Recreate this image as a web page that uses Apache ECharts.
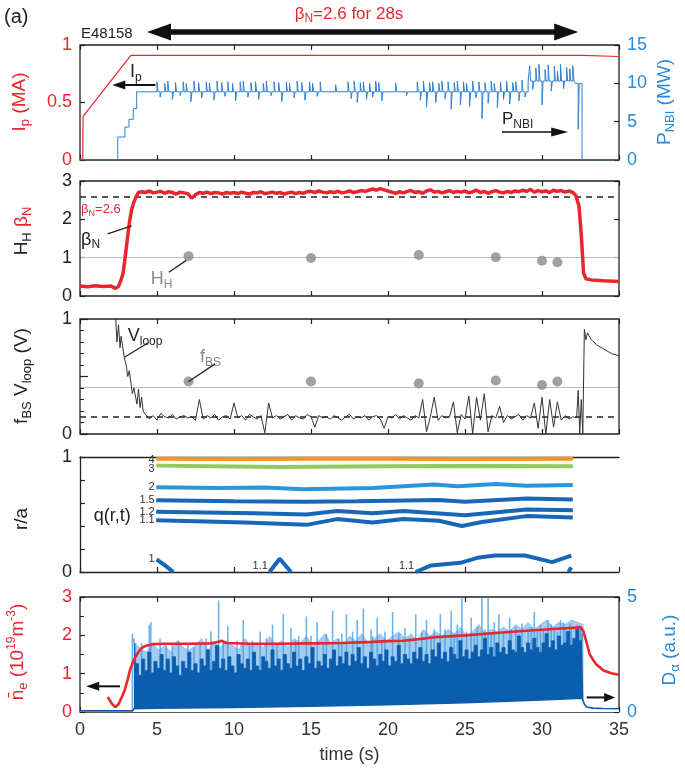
<!DOCTYPE html>
<html><head><meta charset="utf-8">
<script src="https://cdn.jsdelivr.net/npm/echarts@6/dist/echarts.min.js"></script>
<style>html,body{margin:0;padding:0;background:#fff}#c{width:685px;height:777px}</style>
</head><body><div id="c"></div>
<script>
// ---------------- DATA ----------------
const ipData = [[0,0],[0.18,0],[0.2,0.38],[3.3,0.91],[32.65,0.91],[32.75,0.9],[35,0.9]];
// PNBI base level: [start time, level]
const pnbiBase = [[0,0],[2.45,3.0],[2.92,4.3],[3.18,5.3],[3.46,6.7],[3.68,8.9],[29.1,10.3],[32.15,10.0],[32.6,0],[35,0]];
// PNBI short excursions: [time, level]
const pnbiSpikes = [[5.0,10.2],[5.2,8.2],[5.5,10.0],[5.7,10.3],[6.0,7.9],[6.2,10.1],[6.5,8.4],[6.7,10.2],[6.9,10.0],[7.2,7.6],[7.4,10.3],[7.7,10.1],[7.9,8.1],[8.2,10.2],[8.4,10.0],[8.7,7.8],[8.9,10.3],[9.2,10.1],[9.4,8.3],[9.6,10.2],[9.9,10.0],[10.1,7.7],[10.4,10.2],[10.6,10.3],[10.9,8.2],[11.1,10.1],[11.4,10.2],[11.6,7.9],[11.9,10.0],[12.1,10.3],[12.4,8.4],[12.6,10.2],[12.9,10.1],[13.1,7.6],[13.4,10.2],[13.6,10.0],[13.9,8.1],[14.1,10.3],[14.4,10.1],[14.6,7.8],[14.9,10.2],[15.1,10.0],[15.4,8.3],[15.6,10.2],
[16.6,9.8],[17.4,10.2],[17.6,8.0],[17.8,10.3],[18.0,7.5],[18.2,10.1],[18.4,10.2],[18.6,7.9],[18.8,10.0],[19.0,8.2],[19.2,10.3],[19.4,10.1],[19.6,7.7],[20.5,10.0],[21.2,8.4],
[21.9,10.2],[22.1,7.8],[22.3,10.3],[22.5,6.9],[22.7,10.1],[22.9,10.2],[23.1,7.5],[23.3,10.0],[23.5,10.3],[23.7,8.0],[23.9,10.2],[24.1,6.6],[24.3,10.1],[24.5,10.3],[24.7,7.2],[24.9,10.2],[25.1,10.0],[25.3,7.0],[25.5,10.3],[25.7,8.1],[25.9,10.2],[26.1,5.4],[26.3,10.1],[26.5,7.4],[26.7,10.3],[26.9,10.0],[27.1,6.8],[27.3,10.2],[27.5,7.9],[27.7,10.3],[27.9,7.3],[28.1,10.1],[28.3,10.2],[28.5,7.7],[28.7,10.4],[28.9,8.2],
[29.2,12.3],[29.4,9.2],[29.6,12.0],[29.8,12.5],[30.0,7.2],[30.2,11.8],[30.4,12.4],[30.6,9.0],[30.8,12.2],[31.0,11.6],[31.2,12.5],[31.4,9.3],[31.6,12.1],[31.8,11.9],[32.0,12.3],[32.35,4.0]];

// beta_N
const bnStart = [[0,0.26],[0.5,0.24],[1.0,0.27],[1.5,0.25],[2.0,0.26],[2.3,0.2],[2.5,0.25],[2.65,0.4],[2.8,0.6],[2.9,0.9],[3.05,1.4],[3.2,1.9],[3.35,2.25],[3.5,2.45],[3.65,2.6],[3.8,2.7]];
const bnT0 = 4.0, bnDt = 0.25;
const bnVals = [2.72,2.70,2.74,2.69,2.71,2.73,2.68,2.72,2.70,2.66,2.71,2.69,
2.67,2.55,2.64,2.70,2.68,2.71,2.67,2.70,2.69,2.66,2.70,2.68,
2.70,2.67,2.71,2.68,2.66,2.70,2.69,2.72,2.67,2.69,2.71,2.68,
2.70,2.66,2.69,2.71,2.67,2.70,2.68,2.72,2.73,2.70,2.74,2.71,
2.69,2.72,2.70,2.73,2.69,2.71,2.74,2.70,2.72,2.75,2.73,2.76,
2.79,2.76,2.80,2.77,2.74,2.71,2.68,2.72,2.69,2.73,2.75,2.70,
2.72,2.68,2.74,2.77,2.71,2.73,2.69,2.72,2.75,2.70,2.73,2.71,
2.74,2.69,2.72,2.76,2.70,2.73,2.68,2.72,2.75,2.71,2.69,2.73,
2.70,2.74,2.72,2.76,2.73,2.78,2.71,2.75,2.72,2.74,2.70,2.76,
2.73,2.75,2.71,2.74,2.70];
const bnEnd = [[32.2,2.62],[32.4,2.35],[32.55,1.6],[32.7,0.6],[32.85,0.45],[33.2,0.42],[34,0.4],[35,0.38]];
const shotT = [7.05,15.0,22.0,27.0,30.0,31.0];
const hhVals = [1.04,0.99,1.07,1.01,0.92,0.88];
const fbsVals = [0.456,0.456,0.44,0.465,0.426,0.456];

// V_loop
const vlStart = [[2.3,1.05],[2.4,0.8],[2.5,0.95],[2.6,0.75],[2.67,0.85],[2.87,0.67],[3.0,0.6],[3.1,0.5],[3.2,0.55],[3.4,0.35],[3.5,0.4],[3.7,0.26],[3.8,0.39],[3.9,0.23],[4.0,0.32],[4.1,0.2]];
const vlT0 = 4.25, vlDt = 0.25;
const vlVals = [0.17,0.13,0.16,0.12,0.18,0.15,0.14,0.17,0.13,0.15,0.16,0.14,
0.15,0.12,0.30,0.13,0.16,0.14,0.17,0.12,0.15,0.16,0.13,0.27,
0.14,0.16,0.12,0.17,0.15,0.13,0.16,0.01,0.27,0.14,0.16,0.13,
0.15,0.17,0.12,0.16,0.14,0.13,0.17,0.15,0.06,0.16,0.14,0.15,
0.13,0.16,0.14,0.12,0.15,0.17,0.13,0.15,0.14,0.16,0.12,0.15,
0.16,0.13,0.05,0.15,0.14,0.17,0.13,0.16,0.14,0.12,0.16,0.14,
0.30,0.02,0.15,0.32,0.12,0.16,0.14,0.15,0.28,0.01,0.17,0.13,
0.33,0.00,0.32,0.12,0.35,0.02,0.16,0.14,0.24,0.10,0.16,0.13,
0.15,0.17,0.12,0.16,0.14,0.27,0.05,0.32,0.00,0.30,0.06,0.28,
0.12,0.16,0.13,0.15,0.14];
const vlEnd = [[32.35,0.38],[32.45,0.0],[32.55,0.3],[32.65,0.0],[32.72,0.0],[32.75,0.91],[32.85,0.82],[32.95,0.88],[33.2,0.82],[33.6,0.77],[34.0,0.74],[34.5,0.7],[35,0.68]];

// q surfaces r/a
const q4 = [[4.95,0.985],[10,0.983],[15,0.985],[20,0.984],[25,0.983],[32,0.985]];
const q3 = [[4.95,0.925],[10,0.918],[13,0.914],[20,0.92],[25,0.922],[32,0.92]];
const q2 = [[4.95,0.737],[9,0.73],[12,0.735],[14.5,0.72],[19,0.73],[23,0.76],[24.5,0.745],[27,0.765],[29,0.75],[32,0.757]];
const q15 = [[4.95,0.623],[10,0.615],[14.5,0.61],[18,0.615],[23.3,0.627],[25,0.61],[29,0.64],[32,0.631]];
const q12 = [[4.95,0.523],[11.3,0.51],[14.7,0.5],[16.7,0.53],[19,0.51],[21,0.53],[25,0.494],[29,0.543],[32,0.537]];
const q11 = [[4.95,0.451],[10.7,0.43],[14.7,0.41],[16.7,0.46],[19,0.43],[21,0.46],[23.3,0.445],[24.8,0.40],[26.1,0.435],[29,0.486],[32,0.474]];
const q1a = [[4.97,0.11],[5.5,0.06],[6.06,0]];
const q1b = [[12.3,0],[12.97,0.115],[13.7,0]];
const q1c = [[21.8,0],[22.8,0.057],[24.7,0.08],[25.8,0.123],[26.95,0.143],[28.9,0.143],[30.65,0.086],[31.9,0.143]];
const q1d = [[31.72,0],[31.9,0.04]];

// line-averaged density
const neData = [[1.8,0.39],[2.1,0.2],[2.3,0.13],[2.5,0.2],[2.7,0.38],[2.9,0.57],[3.1,0.85],[3.25,1.1],[3.45,1.32],[3.6,1.43],[3.8,1.57],[4.0,1.67],[4.3,1.73],[4.7,1.77],[5.5,1.78],[7,1.78],[8.5,1.79],[9.0,1.83],[9.2,1.86],[9.5,1.8],[11,1.78],[13,1.78],[15,1.79],[17,1.8],[19,1.83],[20,1.85],[21,1.86],[22,1.9],[23,1.95],[25,2.0],[27,2.06],[29,2.12],[31,2.17],[32.3,2.2],[32.5,2.22],[32.7,2.1],[32.9,1.8],[33.1,1.5],[33.5,1.25],[34.0,1.08],[34.5,1.01],[35,0.97]];

// D-alpha (a.u.)
const daT0 = 3.5, daDt = 0.2;
const daTop = [3.2,2.1,1.6,2.3,1.8,2.6,1.7,2.2,1.9,2.5,
1.8,2.3,1.7,2.4,2.0,1.6,2.2,1.9,2.6,1.8,
2.1,1.7,2.3,2.0,2.7,1.8,2.2,2.9,1.9,2.3,
1.8,2.4,2.0,1.7,2.5,2.1,1.9,2.3,1.8,2.6,
2.0,1.8,2.4,2.2,1.9,2.7,2.0,2.3,1.8,2.5,
2.1,1.9,2.6,2.0,2.3,1.8,2.4,2.1,2.8,1.9,
2.2,2.0,2.5,1.9,2.3,2.7,2.0,2.4,2.1,2.6,
2.0,2.5,2.2,2.8,2.1,2.4,1.9,2.6,2.3,2.0,
2.5,2.2,2.7,2.0,2.4,2.2,2.9,2.1,2.5,2.3,
2.1,2.6,2.3,2.8,2.2,2.5,2.1,2.7,2.4,3.0,
2.3,2.6,2.2,2.8,2.5,2.3,3.1,2.4,2.7,2.3,
2.6,2.9,2.4,2.7,3.2,2.5,2.8,2.4,3.0,2.6,
2.8,2.5,3.1,2.7,2.6,3.3,2.8,2.6,3.0,2.7,
3.2,2.8,2.6,3.0,3.4,2.8,3.1,2.7,3.3,2.9,
3.0,3.5,2.9,3.2,3.6,3.1,3.4];
// lighter fringe above the dense band (0.4 s sampling)
const daMidT0 = 3.5, daMidDt = 0.4;
const daMid = [3.0,2.8,2.6,3.0,2.7,2.9,2.6,3.1,2.8,2.7,
2.9,3.2,2.7,3.0,2.8,3.1,2.9,2.7,3.2,2.9,
3.0,2.8,3.3,2.9,3.1,2.8,3.2,3.0,3.3,2.9,
3.1,3.4,3.0,3.2,2.9,3.3,3.1,3.4,3.0,3.2,
3.4,3.1,3.3,3.5,3.2,3.4,3.1,3.6,3.3,3.5,
3.3,3.6,3.4,3.7,3.3,3.5,3.8,3.4,3.6,3.5,
3.7,3.5,3.8,3.6,3.9,3.6,3.8,4.0,3.7,3.9,
3.8,4.0,3.9,3.8];
const daBase = [[0,0.05],[3.42,0.05],[3.5,0.14],[5,0.17],[10,0.2],[15,0.25],[20,0.32],[25,0.4],[30,0.52],[32.6,0.6],[32.75,0.35],[32.9,0.22],[33.3,0.17],[34,0.15],[35,0.14]];
const daSpikes = [[3.4,3.4],[3.6,3.0],[4.0,3.0],[4.5,3.8],[4.6,3.9],[5.2,3.2],[5.6,2.9],[6.0,3.0],[6.4,3.1],[7.0,2.9],[7.4,2.8],[7.8,3.0],[8.2,3.2],[8.5,3.5],[9.0,4.85],[9.3,3.0],[9.6,3.75],[10.2,3.1],[10.6,4.0],[11.0,2.9],[11.2,3.1],[11.7,3.5],[12.1,3.2],[12.5,3.8],[12.8,3.0],[13.2,4.25],[13.7,3.65],[14.0,3.1],[14.2,3.3],[14.7,4.15],[15.0,3.3],[15.4,3.9],[15.8,3.0],[16.0,3.4],[16.4,4.4],[16.8,3.2],[17.0,3.4],[17.3,4.25],[17.7,3.5],[18.0,4.0],[18.4,4.5],[18.9,3.6],[19.0,3.3],[19.3,4.1],[19.6,3.0],[19.8,3.5],[20.3,4.35],[20.7,3.4],[21.1,3.65],[21.4,3.2],[21.8,4.25],[22.2,3.5],[22.5,4.0],[22.8,3.3],[23.0,3.6],[23.4,4.25],[23.7,3.6],[24.1,4.4],[24.3,3.4],[24.5,3.8],[24.8,4.95],[25.1,3.5],[25.4,4.1],[25.6,3.3],[25.8,3.7],[26.1,4.95],[26.3,3.6],[26.5,4.95],[26.7,3.4],[26.9,3.9],[27.2,4.25],[27.5,3.5],[27.9,4.1],[28.0,3.6],[28.3,3.7],[28.5,3.4],[28.7,3.85],[29.1,3.6],[29.3,3.7],[29.5,4.35],[29.7,3.5],[29.9,3.8],[30.1,3.6],[30.4,4.0],[30.6,3.8],[30.8,3.7],[31.0,3.5],[31.2,4.0],[31.4,3.9],[31.5,3.6],[31.8,3.85],[31.9,3.7],[32.2,3.7],[32.3,3.8],[32.5,3.65]];

// ---------------- BUILD ----------------
const FONT = '"Liberation Sans", Arial, sans-serif';
const RED = '#e8262e', BLUE = '#2b8ad6', PNBI_C = '#2f80d0', DA_DARK = '#0b5dad', DA_MID = '#4a9ae0', DA_LIGHT = '#6cb5ec', GRAY = '#8a8a8a', INK = '#222';
const TOPS = [45, 181, 319, 457, 597], H = 115, L = 80, R = 66;

function gridSeries(t0, dt, vals){ return vals.map((v,i)=>[+(t0+i*dt).toFixed(3), v]); }
function baseAt(t){ let b = pnbiBase[0][1]; for (const s of pnbiBase) if (s[0] <= t) b = s[1]; return b; }
const pnbiPts = pnbiBase.map(p=>[p[0],p[1]]);
pnbiSpikes.forEach(s=>{ pnbiPts.push([s[0], s[1]]); pnbiPts.push([+(s[0]+0.07).toFixed(3), baseAt(s[0]+0.07)]); });
pnbiPts.sort((a,b)=>a[0]-b[0]);

const bnData = bnStart.concat(gridSeries(bnT0, bnDt, bnVals), bnEnd);
const vlData = vlStart.concat(gridSeries(vlT0, vlDt, vlVals), vlEnd);
const daTopData = gridSeries(daT0, daDt, daTop);
const daMidData = gridSeries(daMidT0, daMidDt, daMid);
const hhData = shotT.map((t,i)=>[t, hhVals[i]]);
const fbsData = shotT.map((t,i)=>[t, fbsVals[i]]);

const grids = TOPS.map((t,i)=>({left:L, right:R, top:t, height:H, show: i!==3, borderColor:INK, borderWidth:1.3, backgroundColor:'transparent', z:3}));
const xAxes = [];
for (let g=0; g<5; g++){
  xAxes.push({type:'value', gridIndex:g, min:0, max:35, interval:5, position:'bottom',
    axisLine:{show:g===3, onZero:false, lineStyle:{color:INK, width:1.3}},
    axisTick:{show:true, inside:true, length:5, lineStyle:{color:INK, width:1.2}},
    axisLabel:{show:g===4, color:'#333', fontSize:18, fontFamily:FONT, margin:9},
    splitLine:{show:false},
    name: g===4 ? 'time (s)' : '', nameLocation:'middle', nameGap:34,
    nameTextStyle:{fontSize:18, color:'#333', fontFamily:FONT}});
  xAxes.push({type:'value', gridIndex:g, min:0, max:35, interval:5, position:'top',
    axisLine:{show:g===3, onZero:false, lineStyle:{color:INK, width:1.3}},
    axisTick:{show:g!==3, inside:true, length:5, lineStyle:{color:INK, width:1.2}},
    axisLabel:{show:false}, splitLine:{show:false}});
}
function yax(g, pos, min, max, interval, color, extra){
  return Object.assign({type:'value', gridIndex:g, position:pos, min:min, max:max, interval:interval,
    axisLine:{show:false, onZero:false},
    axisTick:{show:true, inside:true, length:5, lineStyle:{color:INK, width:1.2}},
    axisLabel:{show:true, color:color, fontSize:18, fontFamily:FONT, margin:8},
    splitLine:{show:false}}, extra||{});
}
const only01 = v => (Math.abs(v)<1e-9 ? '0' : (Math.abs(v-1)<1e-9 ? '1' : ''));
const yAxes = [
  yax(0,'left',0,1,0.5,RED),
  yax(0,'right',0,15,5,BLUE),
  yax(1,'left',0,3,1,INK),
  yax(1,'right',0,3,1,INK,{axisLabel:{show:false}}),
  yax(2,'left',0,1,0.5,INK,{axisLabel:{show:true,color:INK,fontSize:18,fontFamily:FONT,margin:8,formatter:only01},
     axisTick:{show:true,inside:true,length:8,lineStyle:{color:INK,width:1.2}},
     minorTick:{show:true,splitNumber:5,length:4,lineStyle:{color:INK,width:1}}}),
  yax(3,'left',0,1,0.2,INK,{axisLine:{show:true,onZero:false,lineStyle:{color:INK,width:1.3}},
     axisLabel:{show:true,color:INK,fontSize:18,fontFamily:FONT,margin:8,formatter:only01}}),
  yax(4,'left',0,3,1,RED,{minorTick:{show:true,splitNumber:2,length:4,lineStyle:{color:INK,width:1}}}),
  yax(4,'right',0,5,5,BLUE)
];

function line(name, xi, yi, data, color, width, extra){
  return Object.assign({name:name, type:'line', xAxisIndex:xi, yAxisIndex:yi, data:data, showSymbol:false, symbol:'none',
    lineStyle:{color:color, width:width}, itemStyle:{color:color}, animation:false, silent:true}, extra||{});
}
const ml = (items) => ({silent:true, symbol:'none', z:1, label:{show:false}, animation:false, data:items});

const series = [
  line('Ip',0,0,ipData,RED,1.2),
  line('PNBI',0,1,pnbiPts,PNBI_C,1,{step:'end'}),
  line('refs2',2,2,[[-1,-1]],'#fff',0,{markLine: ml([
      {yAxis:2.6, lineStyle:{type:[6,5], color:INK, width:1.5}},
      {yAxis:1, lineStyle:{type:'solid', color:'#bdbdbd', width:1.2}}])}),
  line('betaN',2,2,bnData,RED,3.5),
  {name:'HH', type:'scatter', xAxisIndex:2, yAxisIndex:2, data:hhData, symbolSize:10, itemStyle:{color:GRAY}, silent:true, animation:false},
  line('refs3',4,4,[[-1,-1]],'#fff',0,{markLine: ml([
      {yAxis:0.15, lineStyle:{type:[6,5], color:INK, width:1.5}},
      {yAxis:0.41, lineStyle:{type:'solid', color:'#bdbdbd', width:1.2}}])}),
  line('Vloop',4,4,vlData,'#333',1),
  {name:'fBS', type:'scatter', xAxisIndex:4, yAxisIndex:4, data:fbsData, symbolSize:10, itemStyle:{color:GRAY}, silent:true, animation:false},
  line('q4',6,5,q4,'#f7941d',4),
  line('q3',6,5,q3,'#8fcc5c',4),
  line('q2',6,5,q2,'#2b95dc',4),
  line('q15',6,5,q15,'#1766b8',4),
  line('q12',6,5,q12,'#1766b8',4),
  line('q11',6,5,q11,'#1766b8',4),
  line('q1a',6,5,q1a,'#1766b8',4),
  line('q1b',6,5,q1b,'#1766b8',4),
  line('q1c',6,5,q1c,'#1766b8',4),
  line('q1d',6,5,q1d,'#1766b8',4),
  {name:'DaSpk', type:'bar', xAxisIndex:8, yAxisIndex:7, data:daSpikes, barWidth:1.6, itemStyle:{color:DA_LIGHT}, silent:true, animation:false},
  line('DaMid',8,7,daMidData,DA_MID,0.6,{areaStyle:{color:DA_MID, opacity:0.5}, lineStyle:{color:DA_MID, width:0.6, opacity:0.6}}),
  line('DaTop',8,7,daTopData,DA_DARK,0.8,{step:'middle', areaStyle:{color:DA_DARK, opacity:1}}),
  line('DaBase',8,7,daBase,DA_DARK,1.6,{areaStyle:{color:'#fff', opacity:1}}),
  line('ne',8,6,neData,RED,2.6)
];

const chart = echarts.init(document.getElementById('c'), null, {renderer:'canvas'});
chart.setOption({animation:false, backgroundColor:'#fff', textStyle:{fontFamily:FONT},
  grid:grids, xAxis:xAxes, yAxis:yAxes, series:series});

// ---------------- ANNOTATIONS ----------------
function P(g, yi, t, v){ return chart.convertToPixel({xAxisIndex:2*g, yAxisIndex:yi}, [t, v]); }
function R_(size, color){
  return {
    m:{fontSize:size, lineHeight:size+5, fill:color, fontFamily:FONT},
    s:{fontSize:Math.round(size*0.68), lineHeight:Math.round(size*0.68), verticalAlign:'bottom', fill:color, fontFamily:FONT},
    u:{fontSize:Math.round(size*0.65), lineHeight:Math.round(size*0.65), verticalAlign:'top', fill:color, fontFamily:FONT},
    r:{fontSize:size, lineHeight:size+5, fill:RED, fontFamily:FONT},
    rs:{fontSize:Math.round(size*0.68), lineHeight:Math.round(size*0.68), verticalAlign:'bottom', fill:RED, fontFamily:FONT}
  };
}
function txt(x, y, text, size, color, align, rot){
  return {type:'text', x:x, y:y, rotation:rot||0, z:50, silent:true,
    style:{text:text, rich:R_(size,color), fill:color, fontSize:size, fontFamily:FONT, align:align||'left', verticalAlign:'middle'}};
}
function arrow(p1, p2, w, hl, hw, color, both){
  const dx=p2[0]-p1[0], dy=p2[1]-p1[1], len=Math.hypot(dx,dy), ux=dx/len, uy=dy/len;
  const els=[];
  const head=(tip, sx, sy)=>{ const bx=tip[0]-sx*hl, by=tip[1]-sy*hl;
    els.push({type:'polygon', z:50, silent:true, shape:{points:[[tip[0],tip[1]],[bx-sy*hw/2, by+sx*hw/2],[bx+sy*hw/2, by-sx*hw/2]]}, style:{fill:color}}); };
  const a = both ? [p1[0]+ux*hl*0.8, p1[1]+uy*hl*0.8] : p1;
  const b = [p2[0]-ux*hl*0.8, p2[1]-uy*hl*0.8];
  els.push({type:'line', z:50, silent:true, shape:{x1:a[0],y1:a[1],x2:b[0],y2:b[1]}, style:{stroke:color, lineWidth:w}});
  head(p2, ux, uy); if (both) head(p1, -ux, -uy);
  return els;
}
function seg(p1, p2, color, w){ return {type:'line', z:50, silent:true, shape:{x1:p1[0],y1:p1[1],x2:p2[0],y2:p2[1]}, style:{stroke:color, lineWidth:w||1.3}}; }

const g = [];
const VR = Math.PI/2; // text reads bottom-to-top
g.push(txt(4, 17, '(a)', 20, INK));
g.push(txt(349, 14, '{r|β}{rs|N}{r|=2.6 for 28s}', 17, RED, 'center'));
g.push(txt(81, 34, 'E48158', 15, INK));
const xa = P(0,0,4.35,0)[0], xb = P(0,0,32.35,0)[0];
g.push(...arrow([xa,32],[xb,32],5.5,24,17,'#111',true));
// axis titles
g.push(txt(20, 102, '{m|I}{s|p}{m| (MA)}', 19, RED, 'center', VR));
g.push(txt(665, 102, '{m|P}{s|NBI}{m| (MW)}', 19, BLUE, 'center', VR));
g.push(txt(22, 231, '{m|H}{s|H}{m| }{r|β}{rs|N}', 19, INK, 'center', VR));
g.push(txt(22, 376, '{m|f}{s|BS}{m| V}{s|loop}{m| (V)}', 19, INK, 'center', VR));
g.push(txt(22, 519, '{m|r/a}', 19, INK, 'center', VR));
g.push(txt(18, 652, '{m|n\u0304}{s|e}{m| (10}{u|19}{m|m}{u|-3}{m|)}', 19, RED, 'center', VR));
g.push(txt(670, 650, '{m|D}{s|α}{m| (a.u.)}', 19, BLUE, 'center', VR));
// panel 1
let p = P(0,0,3.25,0.765); g.push(txt(p[0], p[1], '{m|I}{s|p}', 18, INK));
g.push(...arrow(P(0,0,4.9,0.652), P(0,0,2.1,0.652), 2, 13, 9, '#111'));
p = P(0,1,27.4,5.3); g.push(txt(p[0], p[1], '{m|P}{s|NBI}', 17, INK));
g.push(...arrow(P(0,1,27.4,3.65), P(0,1,31.7,3.65), 1.5, 17, 9, '#111'));
// panel 2
p = P(1,2,0.07,2.27); g.push(txt(p[0], p[1], '{m|β}{s|N}{m|=2.6}', 13, RED));
p = P(1,2,0.07,1.47); g.push(txt(p[0], p[1], '{m|β}{s|N}', 18, INK));
g.push(seg(P(1,2,1.79,1.62), P(1,2,3.35,1.83), INK, 1.3));
p = P(1,2,4.6,0.43); g.push(txt(p[0], p[1], '{m|H}{s|H}', 18, GRAY));
g.push(seg(P(1,2,5.77,0.62), P(1,2,6.9,0.93), INK, 1.3));
// panel 3
p = P(2,4,3.1,0.85); g.push(txt(p[0], p[1], '{m|V}{s|loop}', 18, INK));
g.push(seg(P(2,4,2.88,0.667), P(2,4,4.43,0.794), INK, 1.3));
p = P(2,4,7.8,0.67); g.push(txt(p[0], p[1], '{m|f}{s|BS}', 18, GRAY));
g.push(seg(P(2,4,7.03,0.455), P(2,4,8.77,0.61), INK, 1.3));
// panel 4
p = P(3,5,0.9,0.49); g.push(txt(p[0], p[1], 'q(r,t)', 18, INK));
[['4',0.975],['3',0.9],['2',0.74],['1.5',0.625],['1.2',0.525],['1.1',0.45],['1',0.11]].forEach(a=>{
  const q = P(3,5,4.85,a[1]); g.push(txt(q[0], q[1], a[0], 11, '#333', 'right')); });
p = P(3,5,12.2,0.05); g.push(txt(p[0], p[1], '1.1', 11, '#333', 'right'));
p = P(3,5,21.7,0.05); g.push(txt(p[0], p[1], '1.1', 11, '#333', 'right'));
// panel 5
g.push(...arrow(P(4,6,2.6,0.67), P(4,6,0.4,0.67), 2, 13, 9, '#111'));
g.push(...arrow(P(4,6,32.9,0.38), P(4,6,34.75,0.38), 2, 11, 9, '#111'));

chart.setOption({graphic:{elements:g}});
</script></body></html>
